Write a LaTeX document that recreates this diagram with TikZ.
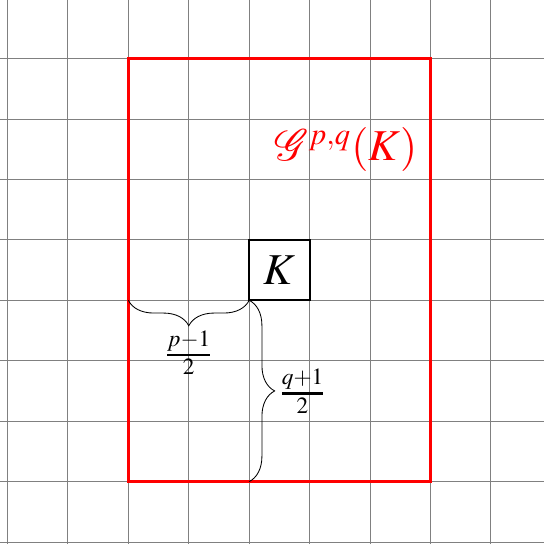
\documentclass[tikz,border=0pt]{standalone}
\usepackage{amsmath}
\usepackage{mathptmx}
\usepackage{xcolor}
\usetikzlibrary{decorations.pathreplacing}

\begin{document}
\begin{tikzpicture}[
    gridline/.style={gray, line width=0.45pt},
    bracestyle/.style={decorate, decoration={brace, amplitude=12pt}},
  ]
  \useasboundingbox (-0.124,-0.033) rectangle (8.876,8.97);
  \draw[gridline] (-0.5,-0.5) grid (9.5,9.5);

  \draw[red, line width=1.4pt] (2,1) rectangle (7,8);
  \node[red, font=\huge] (g) at (5.6,6.5) {$\mathcal{G}^{p,q}(K)$};

  \draw[line width=0.9pt, fill=white] (4,4) rectangle (5,5);
  \node[font=\huge] (k) at (4.5,4.5) {$K$};
  \coordinate (kc) at (4,4);
  \coordinate (left) at (2,4);
  \coordinate (bottom) at (4,1);

  \draw[bracestyle] (kc) -- node[below=13pt, font=\Large, inner sep=1pt] {$\genfrac{}{}{1.3pt}{1}{p{-}1}{2}$} (left);
  \draw[bracestyle] (kc) -- node[right=13pt, font=\Large, inner sep=1pt] {$\genfrac{}{}{1.3pt}{1}{q{+}1}{2}$} (bottom);
\end{tikzpicture}
\end{document}
